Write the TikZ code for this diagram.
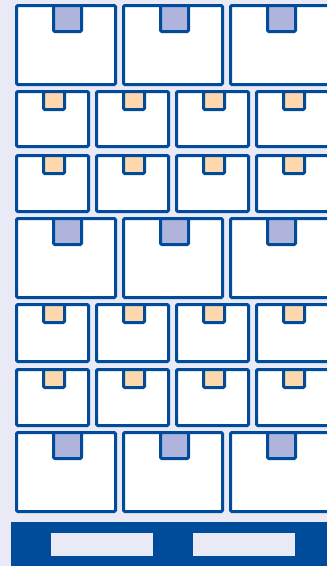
\documentclass[tikz,border=0pt]{standalone}
\definecolor{bg}{HTML}{EAEAF6}
\definecolor{navy}{HTML}{004C9B}
\definecolor{lidL}{HTML}{AEB4DC}
\definecolor{lidS}{HTML}{FCD8AC}
\begin{document}
\begin{tikzpicture}[x=1pt,y=-1pt,
  box/.style={draw=navy,fill=white,line width=3pt,rounded corners=1.2pt},
  lidl/.style={box,fill=lidL},
  lids/.style={box,fill=lidS}]
\fill[bg] (0,0) rectangle (327,566);
\useasboundingbox (0,0) rectangle (327,566);
\clip (0,0) rectangle (327,566);
% large box rows
\foreach \t/\b in {4/86, 217/299, 431/513} {
  \foreach \i in {0,1,2} {
    \pgfmathsetmacro\l{15+107*\i}
    \draw[box] (\l+1.5,\t+1.5) rectangle (\l+102-1.5,\b-1.5);
    \draw[lidl] (\l+37+1.5,\t+1.5) rectangle (\l+68-1.5,\t+29-1.5);
  }
}
% small box rows
\foreach \t/\b in {90/148, 154/213, 303/363, 368/427} {
  \foreach \i in {0,1,2,3} {
    \pgfmathsetmacro\l{15+80*\i}
    \draw[box] (\l+1.5,\t+1.5) rectangle (\l+75-1.5,\b-1.5);
    \draw[lids] (\l+27+1.5,\t+1.5) rectangle (\l+51-1.5,\t+21-1.5);
  }
}
% pallet
\fill[navy] (11,522) rectangle (327,566);
\fill[bg] (51,533) rectangle (153,556);
\fill[bg] (193,533) rectangle (295,556);
\end{tikzpicture}
\end{document}
